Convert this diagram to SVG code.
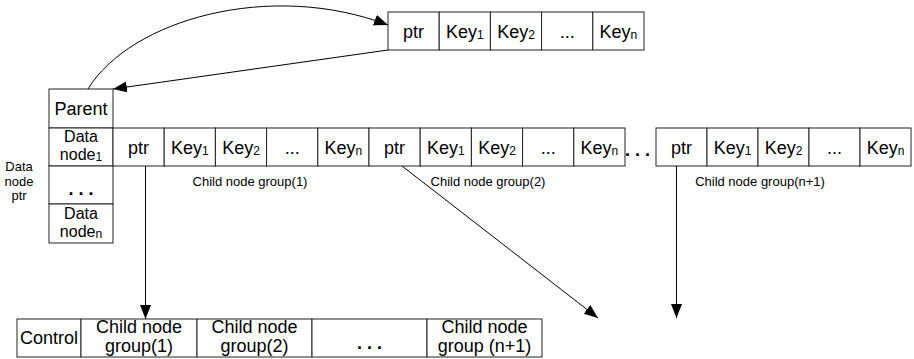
<svg xmlns="http://www.w3.org/2000/svg" width="914" height="359" viewBox="0 0 914 359">
<defs>
<marker id="ah" markerWidth="15" markerHeight="12" refX="14" refY="5.5" orient="auto" markerUnits="userSpaceOnUse">
<path d="M0,0 L14,5.5 L0,11 Z" fill="#000"/>
</marker>
<style>
text{font-family:"Liberation Sans",Arial,sans-serif;fill:#000}
.c{fill:#fff;stroke:#222;stroke-width:1}
.t{font-size:18px;text-anchor:middle}
.m{font-size:16px;text-anchor:middle}
.s{font-size:12px}
.l{font-size:13px;text-anchor:middle}
.b{font-size:18px;text-anchor:middle}
.d{font-size:18px;font-weight:bold;text-anchor:middle;letter-spacing:5px}
.e{fill:none;stroke:#000;stroke-width:1}
</style>
</defs>
<rect width="914" height="359" fill="#fff"/>

<g id="top-node">
<rect class="c" x="388" y="12" width="51.2" height="38"/>
<rect class="c" x="439.2" y="12" width="51.2" height="38"/>
<rect class="c" x="490.4" y="12" width="51.2" height="38"/>
<rect class="c" x="541.6" y="12" width="51.2" height="38"/>
<rect class="c" x="592.8" y="12" width="51.2" height="38"/>
<text class="t" x="413.6" y="38">ptr</text>
<text class="t" x="464.8" y="38">Key<tspan class="s" dy="1">1</tspan></text>
<text class="t" x="516" y="38">Key<tspan class="s" dy="1">2</tspan></text>
<text class="t" x="567.2" y="38">...</text>
<text class="t" x="618.4" y="38">Key<tspan class="s" dy="1">n</tspan></text>
</g>

<g id="data-node-column">
<rect class="c" x="49" y="89" width="64" height="39"/>
<rect class="c" x="49" y="128" width="64" height="38"/>
<rect class="c" x="49" y="166" width="64" height="38"/>
<rect class="c" x="49" y="204" width="64" height="39"/>
<text class="t" x="81" y="115">Parent</text>
<text class="m" x="81" y="142">Data</text>
<text class="m" x="81" y="160">node<tspan class="s" dy="1">1</tspan></text>
<text class="d" x="83.5" y="195">...</text>
<text class="m" x="81" y="219">Data</text>
<text class="m" x="81" y="237">node<tspan class="s" dy="1">n</tspan></text>
</g>

<g id="data-node-ptr-label">
<text class="l" x="19" y="171">Data</text>
<text class="l" x="19" y="185.5">node</text>
<text class="l" x="19" y="200">ptr</text>
</g>

<g id="child-group-1">
<rect class="c" x="113" y="128" width="51.2" height="38"/>
<rect class="c" x="164.2" y="128" width="51.2" height="38"/>
<rect class="c" x="215.4" y="128" width="51.2" height="38"/>
<rect class="c" x="266.6" y="128" width="51.2" height="38"/>
<rect class="c" x="317.8" y="128" width="51.2" height="38"/>
<text class="t" x="138.6" y="153.5">ptr</text>
<text class="t" x="189.8" y="153.5">Key<tspan class="s" dy="1">1</tspan></text>
<text class="t" x="241" y="153.5">Key<tspan class="s" dy="1">2</tspan></text>
<text class="t" x="292.2" y="153.5">...</text>
<text class="t" x="343.4" y="153.5">Key<tspan class="s" dy="1">n</tspan></text>
<text class="l" x="250" y="186">Child node group(1)</text>
</g>

<g id="child-group-2">
<rect class="c" x="369" y="128" width="51.2" height="38"/>
<rect class="c" x="420.2" y="128" width="51.2" height="38"/>
<rect class="c" x="471.4" y="128" width="51.2" height="38"/>
<rect class="c" x="522.6" y="128" width="51.2" height="38"/>
<rect class="c" x="573.8" y="128" width="51.2" height="38"/>
<text class="t" x="394.6" y="153.5">ptr</text>
<text class="t" x="445.8" y="153.5">Key<tspan class="s" dy="1">1</tspan></text>
<text class="t" x="497" y="153.5">Key<tspan class="s" dy="1">2</tspan></text>
<text class="t" x="548.2" y="153.5">...</text>
<text class="t" x="599.4" y="153.5">Key<tspan class="s" dy="1">n</tspan></text>
<text class="l" x="488" y="186">Child node group(2)</text>
</g>

<text class="d" x="640" y="156">...</text>

<g id="child-group-n1">
<rect class="c" x="656" y="128" width="51" height="38"/>
<rect class="c" x="707" y="128" width="51" height="38"/>
<rect class="c" x="758" y="128" width="51" height="38"/>
<rect class="c" x="809" y="128" width="51" height="38"/>
<rect class="c" x="860" y="128" width="51" height="38"/>
<text class="t" x="681.5" y="153.5">ptr</text>
<text class="t" x="732.5" y="153.5">Key<tspan class="s" dy="1">1</tspan></text>
<text class="t" x="783.5" y="153.5">Key<tspan class="s" dy="1">2</tspan></text>
<text class="t" x="834.5" y="153.5">...</text>
<text class="t" x="885.5" y="153.5">Key<tspan class="s" dy="1">n</tspan></text>
<text class="l" x="760" y="186">Child node group(n+1)</text>
</g>

<g id="control-block">
<rect class="c" x="17" y="319" width="64" height="38"/>
<rect class="c" x="81" y="319" width="116" height="38"/>
<rect class="c" x="197" y="319" width="115" height="38"/>
<rect class="c" x="312" y="319" width="115" height="38"/>
<rect class="c" x="427" y="319" width="115" height="38"/>
<text class="b" x="49" y="344">Control</text>
<text class="b" x="139" y="333">Child node</text>
<text class="b" x="139" y="352">group(1)</text>
<text class="b" x="254.5" y="333">Child node</text>
<text class="b" x="254.5" y="352">group(2)</text>
<text class="d" x="372" y="349">...</text>
<text class="b" x="484.5" y="333">Child node</text>
<text class="b" x="484.5" y="352">group (n+1)</text>
</g>

<g id="connectors">
<path class="e" d="M88,89 C130,20 270,-20 388,25" marker-end="url(#ah)"/>
<path class="e" d="M388,50 L113,89" marker-end="url(#ah)"/>
<path class="e" d="M145.5,166 L145.5,319" marker-end="url(#ah)"/>
<path class="e" d="M402,166 L598,318" marker-end="url(#ah)"/>
<path class="e" d="M676.5,166 L676.5,318" marker-end="url(#ah)"/>
</g>
</svg>
